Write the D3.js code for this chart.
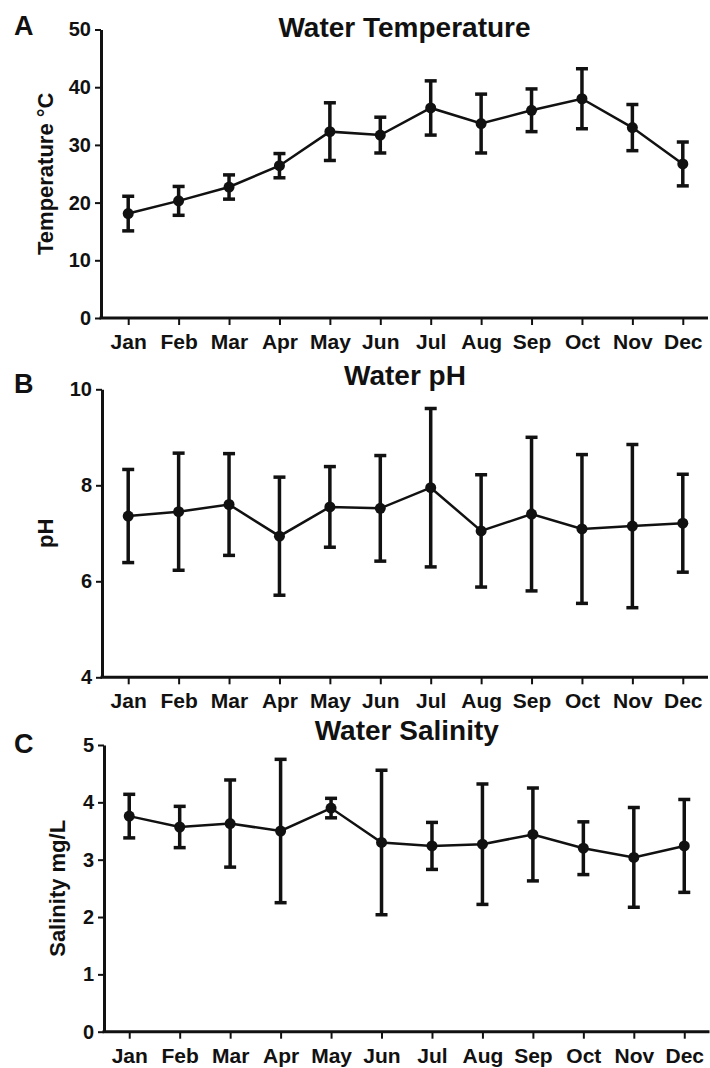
<!DOCTYPE html>
<html>
<head>
<meta charset="utf-8">
<script src="https://cdn.jsdelivr.net/npm/d3@7"></script>
<style>
  body { margin: 0; background: #fff; }
  svg text { font-family: "Liberation Sans", Arial, sans-serif; font-weight: bold; fill: #111; }
</style>
</head>
<body>
<div id="chart"></div>
<script>
// monthly means and error (half-length of bar)
const months = ["Jan", "Feb", "Mar", "Apr", "May", "Jun", "Jul", "Aug", "Sep", "Oct", "Nov", "Dec"];

const tempMean = [18.1, 20.3, 22.7, 26.4, 32.3, 31.7, 36.4, 33.7, 36.0, 38.0, 33.0, 26.7];
const tempErr  = [3.0, 2.5, 2.1, 2.1, 5.0, 3.1, 4.7, 5.1, 3.7, 5.2, 4.0, 3.8];
const tempTicks = [0, 10, 20, 30, 40, 50];

const phMean = [7.36, 7.45, 7.60, 6.94, 7.55, 7.52, 7.95, 7.05, 7.40, 7.09, 7.15, 7.21];
const phErr  = [0.97, 1.22, 1.06, 1.23, 0.84, 1.10, 1.65, 1.17, 1.60, 1.55, 1.70, 1.02];
const phTicks = [4, 6, 8, 10];

const salMean = [3.76, 3.57, 3.63, 3.50, 3.90, 3.30, 3.24, 3.27, 3.44, 3.20, 3.04, 3.24];
const salErr  = [0.38, 0.36, 0.76, 1.25, 0.17, 1.26, 0.41, 1.05, 0.81, 0.46, 0.87, 0.81];
const salTicks = [0, 1, 2, 3, 4, 5];

const width = 710, height = 1068;

const svg = d3.select("#chart").append("svg")
    .attr("width", width)
    .attr("height", height);

const panels = [
  { letter: "A", title: "Water Temperature", ylabel: "Temperature \u00B0C",
    mean: tempMean, err: tempErr, ticks: tempTicks,
    top: 29.5, bottom: 318, left: 101, xr: [103, 708], letterY: 35, titleY: 37, labelX: 53 },
  { letter: "B", title: "Water pH", ylabel: "pH",
    mean: phMean, err: phErr, ticks: phTicks,
    top: 389.3, bottom: 677.3, left: 102, xr: [103, 708], letterY: 393, titleY: 385, labelX: 53 },
  { letter: "C", title: "Water Salinity", ylabel: "Salinity mg/L",
    mean: salMean, err: salErr, ticks: salTicks,
    top: 745, bottom: 1031.7, left: 104, xr: [104, 709.5], letterY: 753, titleY: 740, labelX: 65 }
];

panels.forEach(p => drawPanel(p));

function drawPanel(p) {
  const g = svg.append("g");
  const data = months.map((m, i) => ({ month: m, mean: p.mean[i], err: p.err[i] }));

  const x = d3.scalePoint()
      .domain(months)
      .range(p.xr)
      .padding(0.5);
  const y = d3.scaleLinear()
      .domain(d3.extent(p.ticks))
      .range([p.bottom, p.top]);

  // y axis
  g.append("g")
      .attr("transform", `translate(${p.left},0)`)
      .call(d3.axisLeft(y).tickValues(p.ticks).tickFormat(d3.format("d"))
          .tickSize(6).tickPadding(4).tickSizeOuter(0))
      .call(a => a.select(".domain").attr("stroke", "#111").attr("stroke-width", 3))
      .call(a => a.selectAll(".tick line").attr("stroke", "#111").attr("stroke-width", 2))
      .call(a => a.selectAll(".tick text").style("font-size", "20px").attr("fill", "#111"));

  // x axis
  g.append("g")
      .attr("transform", `translate(0,${p.bottom})`)
      .call(d3.axisBottom(x).tickSize(7).tickPadding(9).tickSizeOuter(0))
      .call(a => a.select(".domain").remove())
      .call(a => a.selectAll(".tick line").attr("stroke", "#111").attr("stroke-width", 2))
      .call(a => a.selectAll(".tick text").style("font-size", "21px").attr("fill", "#111"));
  g.append("line")
      .attr("x1", p.left - 1.5).attr("x2", p.xr[1])
      .attr("y1", p.bottom).attr("y2", p.bottom)
      .attr("stroke", "#111").attr("stroke-width", 3);

  // connecting line
  g.append("path")
      .datum(data)
      .attr("fill", "none")
      .attr("stroke", "#111")
      .attr("stroke-width", 2.5)
      .attr("d", d3.line().x(d => x(d.month)).y(d => y(d.mean)));

  // error bars
  const eb = g.append("g").attr("stroke", "#111").attr("stroke-width", 3.5);
  eb.selectAll(".v").data(data).join("line")
      .attr("x1", d => x(d.month)).attr("x2", d => x(d.month))
      .attr("y1", d => y(d.mean - d.err)).attr("y2", d => y(d.mean + d.err));
  eb.selectAll(".capt").data(data).join("line")
      .attr("x1", d => x(d.month) - 6).attr("x2", d => x(d.month) + 6)
      .attr("y1", d => y(d.mean + d.err)).attr("y2", d => y(d.mean + d.err));
  eb.selectAll(".capb").data(data).join("line")
      .attr("x1", d => x(d.month) - 6).attr("x2", d => x(d.month) + 6)
      .attr("y1", d => y(d.mean - d.err)).attr("y2", d => y(d.mean - d.err));

  // points
  g.append("g").selectAll("circle").data(data).join("circle")
      .attr("cx", d => x(d.month))
      .attr("cy", d => y(d.mean))
      .attr("r", 5.5)
      .attr("fill", "#111");

  // title
  g.append("text")
      .attr("x", (p.left + p.xr[1]) / 2)
      .attr("y", p.titleY)
      .attr("text-anchor", "middle")
      .style("font-size", "28px")
      .text(p.title);

  // y label
  g.append("text")
      .attr("transform", "rotate(-90)")
      .attr("x", -(p.top + p.bottom) / 2)
      .attr("y", p.labelX)
      .attr("text-anchor", "middle")
      .style("font-size", "22px")
      .text(p.ylabel);

  // panel letter
  g.append("text")
      .attr("x", 14)
      .attr("y", p.letterY)
      .style("font-size", "27px")
      .text(p.letter);
}
</script>
</body>
</html>
